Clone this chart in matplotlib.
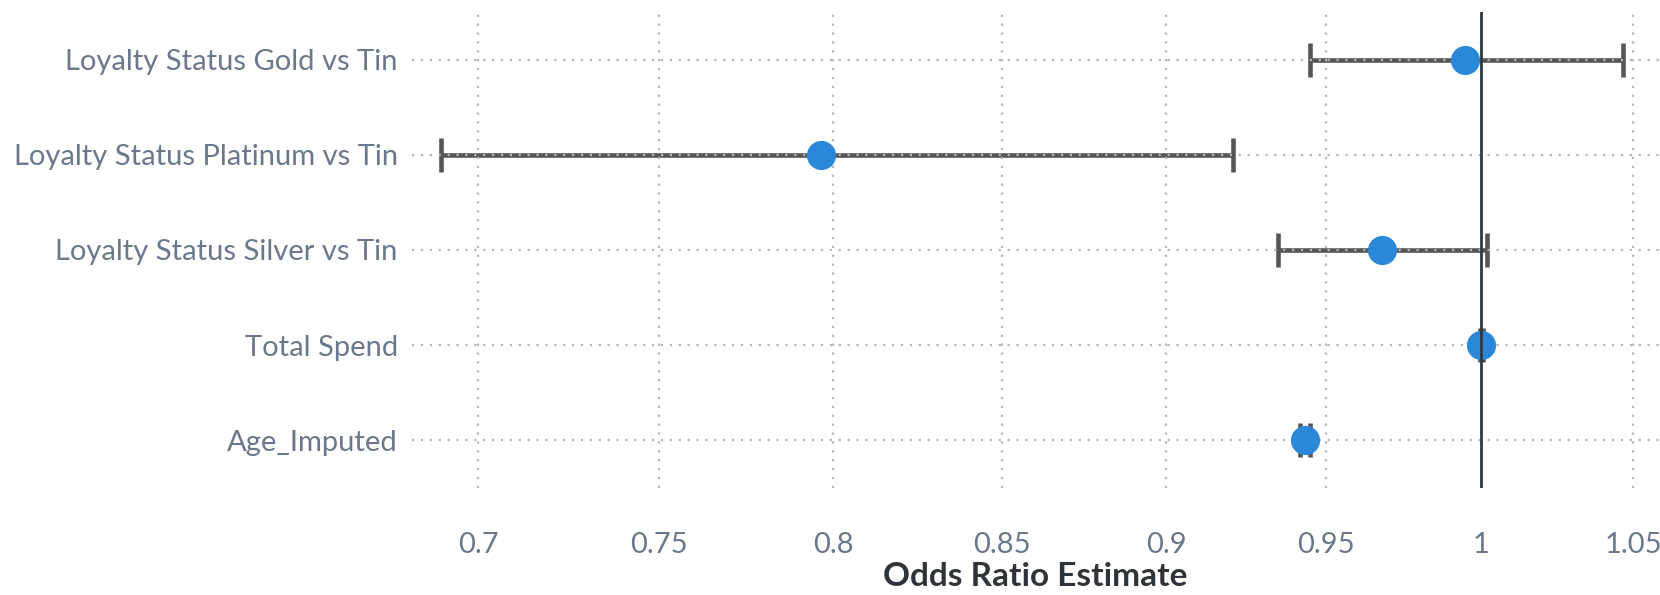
import numpy as np
import matplotlib.pyplot as plt

# odds ratio estimates with 95% confidence limits
effects = ["Loyalty Status Gold vs Tin", "Loyalty Status Platinum vs Tin",
           "Loyalty Status Silver vs Tin", "Total Spend", "Age_Imputed"]
odds_ratio = [0.9946, 0.7966, 0.9678, 1.0000, 0.9434]
lower_cl = [0.9450, 0.6899, 0.9349, 0.9996, 0.9418]
upper_cl = [1.0465, 0.9209, 1.0019, 1.0004, 0.9449]
x_ticks = [0.7, 0.75, 0.8, 0.85, 0.9, 0.95, 1, 1.05]

plt.rcParams['font.family'] = ['Lato', 'DejaVu Sans']

fig = plt.figure(figsize=(16.6, 5.95), dpi=100)
ax = fig.add_axes([0.248, 0.18, 0.752, 0.80])

ax.set_xscale('function', functions=(np.sqrt, np.square))

y = np.arange(len(effects))
est = np.array(odds_ratio)
err = [est - np.array(lower_cl), np.array(upper_cl) - est]

ax.errorbar(est, y, xerr=err, fmt='none', ecolor='#555555', elinewidth=3.3,
            capsize=12, capthick=3.3, zorder=2)
ax.scatter(est, y, s=440, color='#2b87d8', zorder=3, linewidths=0)
ax.axvline(1, color='#333840', lw=2, zorder=5)

ax.set_xlim(0.682, 1.059)
ax.set_ylim(len(effects) - 0.5, -0.5)
ax.set_yticks(y)
ax.set_yticklabels(effects)
ax.set_xticks(x_ticks)
ax.set_xticklabels([f"{t:g}" for t in x_ticks])

ax.grid(True, color='#b5b5b5', linestyle=(0, (1, 3)), linewidth=1.6, zorder=4)
ax.set_axisbelow(False)
for s in ax.spines.values():
    s.set_visible(False)
ax.tick_params(length=0, labelsize=21, labelcolor='#6b778a')
ax.tick_params(axis='y', pad=10)
ax.tick_params(axis='x', pad=32)

fig.text(1035 / 1660, 1 - 577 / 595, "Odds Ratio Estimate", fontsize=24,
         fontweight='bold', color='#2f333a', ha='center', va='center')

fig.savefig("out.png", dpi=100)
